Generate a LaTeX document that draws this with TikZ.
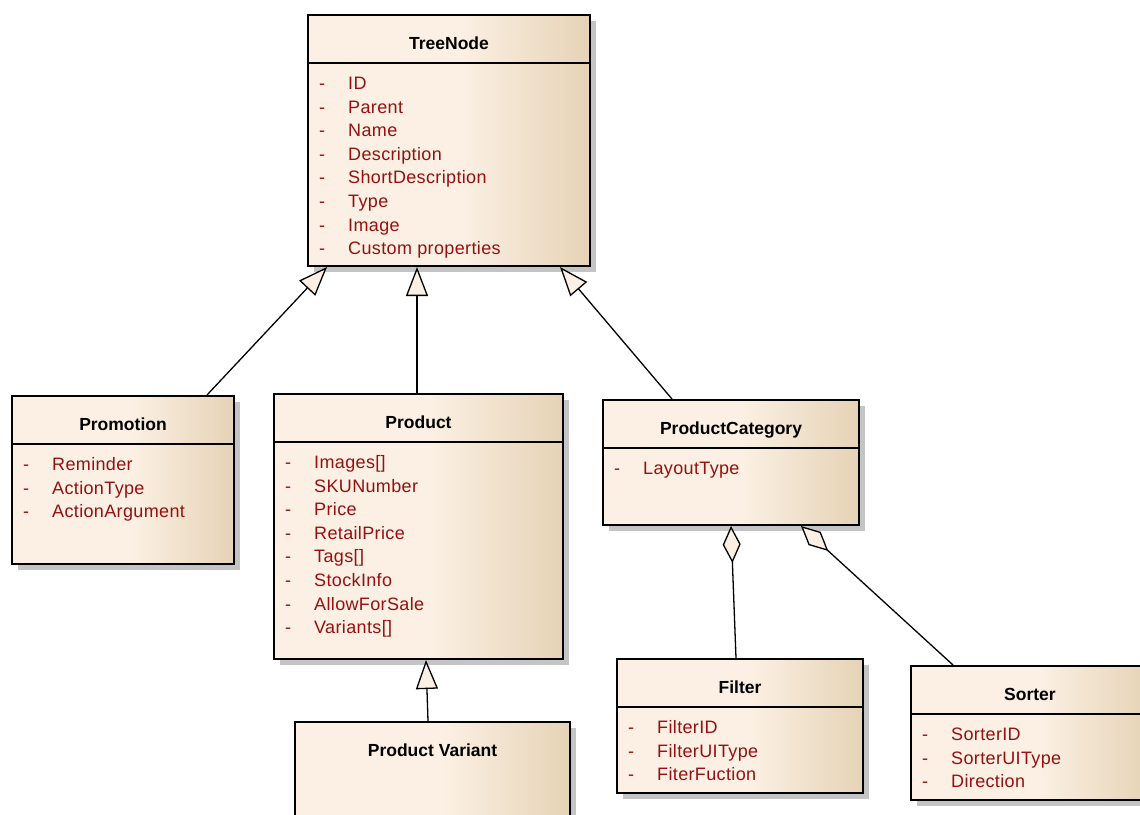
\documentclass[tikz,border=0pt]{standalone}
\usepackage{fontspec}
\setmainfont{Liberation Sans}
\newfontfamily\attrfont[LetterSpace=2]{Liberation Sans}
\usetikzlibrary{arrows.meta,shadows}

\definecolor{boxlight}{HTML}{FBF0E3}
\definecolor{boxdark}{HTML}{E6D3B6}
\definecolor{attrred}{RGB}{150,16,16}
\definecolor{shadowgray}{HTML}{C4C4C4}
\pgfdeclarehorizontalshading{classfill}{100bp}{color(0bp)=(boxlight); color(25bp)=(boxlight); color(52bp)=(boxlight); color(75bp)=(boxdark); color(100bp)=(boxdark)}

\tikzset{
  classbox/.style={draw=black, line width=2pt, shade, shading=classfill,
    drop shadow={shadow xshift=6pt, shadow yshift=-6pt, fill=shadowgray, opacity=1},
    anchor=north west, inner sep=0pt},
  classtitle/.style={font=\fontsize{17.5}{20}\selectfont\bfseries, anchor=base, inner sep=0pt},
  attrname/.style={font=\attrfont\fontsize{18}{20}\selectfont, text=attrred, anchor=base west, inner sep=0pt},
  divider/.style={line width=2pt},
  gen/.style={line width=1.3pt, -{Triangle[length=29pt,width=22pt,fill=boxlight]}},
  agg/.style={line width=1.3pt, -{Diamond[length=37pt,width=18pt,fill=boxlight]}},
}

% class box: name, x, y, width, height, title
\newcommand\classnode[6]{%
  \node[classbox, minimum width=#4pt, minimum height=#5pt] (#1) at (#2,#3) {};
  \node[classtitle] (#1-title) at ([yshift=-35pt]#1.north) {#6};
}
% attribute compartment: name, list of attributes
\newcommand\classattrs[2]{%
  \draw[divider] ([yshift=-48.5pt]#1.north west) -- ([yshift=-48.5pt]#1.north east);
  \foreach \attr [count=\k] in {#2} {
    \node[attrname] (#1-dash\k) at ([xshift=12pt, yshift={-(75.5+(\k-1)*23.6)*1pt}]#1.north west) {-};
    \node[attrname] (#1-attr\k) at ([xshift=41pt, yshift={-(75.5+(\k-1)*23.6)*1pt}]#1.north west) {\attr};
  }
}

\begin{document}
\begin{tikzpicture}[x=1pt, y=-1pt]
  \clip (0,0) rectangle (1140,814);

  \classnode{tree}{307}{14}{282}{251}{TreeNode}
  \classattrs{tree}{ID, Parent, Name, Description, ShortDescription, Type, Image, Custom properties}

  \classnode{promo}{11}{395}{222}{168}{Promotion}
  \classattrs{promo}{Reminder, ActionType, ActionArgument}

  \classnode{product}{273}{393}{289}{265}{Product}
  \classattrs{product}{Images[], SKUNumber, Price, RetailPrice, Tags[], StockInfo, AllowForSale, Variants[]}

  \classnode{cat}{602}{399}{256}{125}{ProductCategory}
  \classattrs{cat}{LayoutType}

  \classnode{filter}{616}{658}{246}{134}{Filter}
  \classattrs{filter}{FilterID, FilterUIType, FiterFuction}

  \classnode{sorter}{910}{665}{238}{134}{Sorter}
  \classattrs{sorter}{SorterID, SorterUIType, Direction}

  \classnode{variant}{294}{721}{275}{130}{Product Variant}

  % generalizations
  \draw[gen] ([xshift=-28pt]promo.north east) -- ([xshift=20pt]tree.south west);
  \draw[gen] ([xshift=144pt]product.north west) -- ([xshift=110pt]tree.south west);
  \draw[gen] ([xshift=70pt]cat.north west) -- ([xshift=-31pt]tree.south east);
  \draw[gen] ([xshift=134pt]variant.north west) -- ([xshift=153pt]product.south west);

  % aggregations
  \draw[agg] ([xshift=120pt]filter.north west) -- ([xshift=129pt]cat.south west);
  \draw[agg] ([xshift=43pt]sorter.north west) -- ([xshift=-59pt]cat.south east);
\end{tikzpicture}
\end{document}
